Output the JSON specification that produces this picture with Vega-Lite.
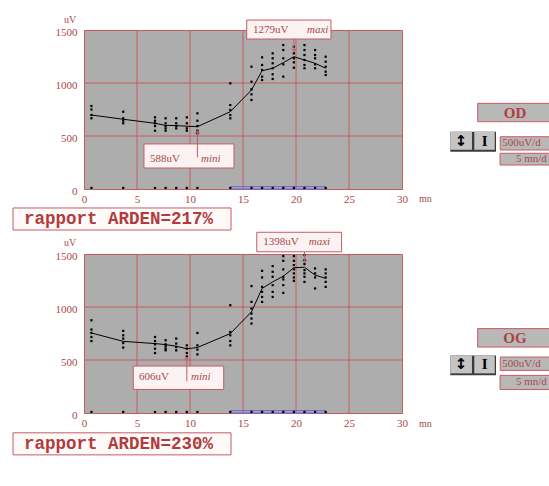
{
 "$schema": "https://vega.github.io/schema/vega-lite/v6.json",
 "background": "white",
 "padding": {"left": 12, "top": 14, "right": 0, "bottom": 0},
 "spacing": 65,
 "bounds": "flush",
 "config": {
  "view": {"fill": "#adadad", "stroke": "#c85a64", "strokeWidth": 1},
  "axis": {"grid": false, "domain": false, "ticks": false, "labelFont": "Liberation Serif", "labelFontSize": 11, "labelColor": "#a84848", "labelOverlap": false, "format": "d"},
  "axisX": {"labelPadding": 4, "labelFlush": false},
  "axisY": {"labelPadding": 7, "labelOffset": 2},
  "text": {"font": "Liberation Serif", "fontSize": 11, "color": "#a84848", "baseline": "middle", "align": "left", "clip": false},
  "rect": {"clip": false},
  "rule": {"clip": false},
  "point": {"clip": false}
 },
 "datasets": {
  "grid": [
   {"t":5,"t2":5,"v":0,"v2":1500},{"t":10,"t2":10,"v":0,"v2":1500},{"t":15,"t2":15,"v":0,"v2":1500},{"t":20,"t2":20,"v":0,"v2":1500},{"t":25,"t2":25,"v":0,"v2":1500},
   {"t":0,"t2":30,"v":500,"v2":500},{"t":0,"t2":30,"v":1000,"v2":1000}
  ],
  "od_pts": [
   {"t":0.7,"v":783},{"t":0.7,"v":750},{"t":0.7,"v":698},{"t":0.7,"v":667},
   {"t":3.7,"v":729},{"t":3.7,"v":667},{"t":3.7,"v":644},{"t":3.7,"v":620},
   {"t":6.7,"v":676},{"t":6.7,"v":644},{"t":6.7,"v":620},{"t":6.7,"v":594},{"t":6.7,"v":550},
   {"t":7.7,"v":667},{"t":7.7,"v":620},{"t":7.7,"v":594},{"t":7.7,"v":572},{"t":7.7,"v":550},
   {"t":8.7,"v":667},{"t":8.7,"v":620},{"t":8.7,"v":594},{"t":8.7,"v":572},
   {"t":9.7,"v":676},{"t":9.7,"v":620},{"t":9.7,"v":572},{"t":9.7,"v":550},
   {"t":10.7,"v":714},{"t":10.7,"v":644},{"t":10.7,"v":594},{"t":10.7,"v":550},{"t":10.7,"v":525},
   {"t":13.8,"v":997},{"t":13.8,"v":792},{"t":13.8,"v":745},{"t":13.8,"v":698},{"t":13.8,"v":667},
   {"t":15.8,"v":1154},{"t":15.8,"v":1012},{"t":15.8,"v":940},{"t":15.8,"v":893},{"t":15.8,"v":840},
   {"t":16.8,"v":1242},{"t":16.8,"v":1170},{"t":16.8,"v":1123},{"t":16.8,"v":1060},{"t":16.8,"v":1028},
   {"t":17.8,"v":1280},{"t":17.8,"v":1233},{"t":17.8,"v":1186},{"t":17.8,"v":1139},{"t":17.8,"v":1082},{"t":17.8,"v":1038},
   {"t":18.8,"v":1358},{"t":18.8,"v":1311},{"t":18.8,"v":1233},{"t":18.8,"v":1176},{"t":18.8,"v":1060},
   {"t":19.8,"v":1342},{"t":19.8,"v":1280},{"t":19.8,"v":1233},{"t":19.8,"v":1195},{"t":19.8,"v":1144},
   {"t":20.8,"v":1358},{"t":20.8,"v":1311},{"t":20.8,"v":1264},{"t":20.8,"v":1217},{"t":20.8,"v":1170},{"t":20.8,"v":1139},
   {"t":21.8,"v":1311},{"t":21.8,"v":1264},{"t":21.8,"v":1233},{"t":21.8,"v":1176},{"t":21.8,"v":1139},
   {"t":22.8,"v":1248},{"t":22.8,"v":1201},{"t":22.8,"v":1154},{"t":22.8,"v":1107},{"t":22.8,"v":1075}
  ],
  "od_mean": [
   {"t":0.7,"v":698},{"t":3.7,"v":658},{"t":6.7,"v":620},{"t":7.7,"v":600},{"t":8.7,"v":598},{"t":9.7,"v":592},{"t":10.7,"v":588},
   {"t":13.8,"v":729},{"t":15.8,"v":934},{"t":16.8,"v":1116},{"t":17.8,"v":1139},{"t":18.8,"v":1192},{"t":19.8,"v":1248},{"t":20.8,"v":1217},{"t":21.8,"v":1186},{"t":22.8,"v":1139}
  ],
  "od_rects": [
   {"kind":"note","t":5.66,"t2":14.15,"v":425,"v2":198},
   {"kind":"note","t":15.35,"t2":23.3,"v":1594,"v2":1415},
   {"kind":"report","t":-6.698,"t2":13.87,"v":-179,"v2":-387},
   {"kind":"ui","t":37.14,"t2":45,"v":808,"v2":635},
   {"kind":"ui","t":39.27,"t2":45,"v":493,"v2":368},
   {"kind":"ui","t":39.25,"t2":45,"v":337,"v2":226},
   {"kind":"shadow","t":34.56,"t2":38.87,"v":541,"v2":352},
   {"kind":"button","t":34.56,"t2":36.6,"v":541,"v2":370},
   {"kind":"button","t":36.82,"t2":38.75,"v":541,"v2":370},
   {"kind":"scan","t":13.85,"t2":22.8,"v":0,"v2":22}
  ],
  "od_arrows": [
   {"dir":"up","t":10.7,"v":548,"v2":300},
   {"dir":"down","t":19.8,"v":1300,"v2":1415}
  ],
  "od_text": [
   {"kind":"plain","t":6.23,"v":280,"label":"588uV"},
   {"kind":"italic","t":11.04,"v":280,"label":"mini"},
   {"kind":"plain","t":15.94,"v":1504,"label":"1279uV"},
   {"kind":"italic","t":21.04,"v":1504,"label":"maxi"},
   {"kind":"plain","t":39.45,"v":431,"label":"500uV/d"},
   {"kind":"plain","t":40.75,"v":282,"label":"5 mn/d"},
   {"kind":"small","t":31.6,"v":-94,"label":"mn"},
   {"kind":"unit","t":-1.32,"v":1594,"label":"uV"},
   {"kind":"report","t":-5.66,"v":-283,"label":"rapport ARDEN=217%"},
   {"kind":"eye","t":40.66,"v":720,"label":"OD"},
   {"kind":"arrowicon","t":35.58,"v":455,"label":"↕"},
   {"kind":"beamicon","t":37.79,"v":455,"label":"I"}
  ],
  "og_pts": [
   {"t":0.7,"v":875},{"t":0.7,"v":787},{"t":0.7,"v":755},{"t":0.7,"v":717},{"t":0.7,"v":679},
   {"t":3.7,"v":774},{"t":3.7,"v":733},{"t":3.7,"v":702},{"t":3.7,"v":660},{"t":3.7,"v":617},
   {"t":6.7,"v":717},{"t":6.7,"v":679},{"t":6.7,"v":648},{"t":6.7,"v":607},{"t":6.7,"v":566},
   {"t":7.7,"v":686},{"t":7.7,"v":648},{"t":7.7,"v":629},{"t":7.7,"v":607},{"t":7.7,"v":591},
   {"t":8.7,"v":702},{"t":8.7,"v":655},{"t":8.7,"v":622},{"t":8.7,"v":591},
   {"t":9.7,"v":638},{"t":9.7,"v":607},{"t":9.7,"v":566},{"t":9.7,"v":534},
   {"t":10.7,"v":755},{"t":10.7,"v":638},{"t":10.7,"v":598},{"t":10.7,"v":553},
   {"t":13.8,"v":1017},{"t":13.8,"v":764},{"t":13.8,"v":733},{"t":13.8,"v":679},{"t":13.8,"v":638},
   {"t":15.8,"v":1197},{"t":15.8,"v":1048},{"t":15.8,"v":986},{"t":15.8,"v":938},{"t":15.8,"v":891},{"t":15.8,"v":844},
   {"t":16.8,"v":1341},{"t":16.8,"v":1279},{"t":16.8,"v":1190},{"t":16.8,"v":1143},{"t":16.8,"v":1095},{"t":16.8,"v":1048},
   {"t":17.8,"v":1386},{"t":17.8,"v":1332},{"t":17.8,"v":1285},{"t":17.8,"v":1206},{"t":17.8,"v":1143},{"t":17.8,"v":1095},
   {"t":18.8,"v":1480},{"t":18.8,"v":1436},{"t":18.8,"v":1355},{"t":18.8,"v":1285},{"t":18.8,"v":1260},{"t":18.8,"v":1206},{"t":18.8,"v":1133},
   {"t":19.8,"v":1480},{"t":19.8,"v":1436},{"t":19.8,"v":1395},{"t":19.8,"v":1355},{"t":19.8,"v":1317},{"t":19.8,"v":1279},{"t":19.8,"v":1247},
   {"t":20.8,"v":1490},{"t":20.8,"v":1443},{"t":20.8,"v":1405},{"t":20.8,"v":1348},{"t":20.8,"v":1317},{"t":20.8,"v":1285},{"t":20.8,"v":1237},
   {"t":21.8,"v":1364},{"t":21.8,"v":1317},{"t":21.8,"v":1279},{"t":21.8,"v":1175},
   {"t":22.8,"v":1355},{"t":22.8,"v":1317},{"t":22.8,"v":1279},{"t":22.8,"v":1237},{"t":22.8,"v":1190}
  ],
  "og_mean": [
   {"t":0.7,"v":755},{"t":3.7,"v":676},{"t":6.7,"v":655},{"t":7.7,"v":645},{"t":8.7,"v":630},{"t":9.7,"v":606},{"t":10.7,"v":618},
   {"t":13.8,"v":749},{"t":15.8,"v":954},{"t":16.8,"v":1175},{"t":17.8,"v":1237},{"t":18.8,"v":1291},{"t":19.8,"v":1370},{"t":20.8,"v":1375},{"t":21.8,"v":1301},{"t":22.8,"v":1270}
  ],
  "og_rects": [
   {"kind":"note","t":4.65,"t2":13.18,"v":443,"v2":222},
   {"kind":"note","t":16.3,"t2":24.3,"v":1705,"v2":1521},
   {"kind":"report","t":-6.698,"t2":13.87,"v":-187,"v2":-395},
   {"kind":"ui","t":37.14,"t2":45,"v":796,"v2":622},
   {"kind":"ui","t":39.27,"t2":45,"v":528,"v2":402},
   {"kind":"ui","t":39.25,"t2":45,"v":355,"v2":222},
   {"kind":"shadow","t":34.56,"t2":38.87,"v":543,"v2":355},
   {"kind":"button","t":34.56,"t2":36.6,"v":543,"v2":374},
   {"kind":"button","t":36.82,"t2":38.75,"v":543,"v2":374},
   {"kind":"scan","t":13.85,"t2":22.8,"v":0,"v2":22}
  ],
  "og_arrows": [
   {"dir":"up","t":9.7,"v":525,"v2":300},
   {"dir":"down","t":20.8,"v":1415,"v2":1521}
  ],
  "og_text": [
   {"kind":"plain","t":5.19,"v":336,"label":"606uV"},
   {"kind":"italic","t":10.1,"v":336,"label":"mini"},
   {"kind":"plain","t":16.9,"v":1613,"label":"1398uV"},
   {"kind":"italic","t":21.2,"v":1613,"label":"maxi"},
   {"kind":"plain","t":39.45,"v":465,"label":"500uV/d"},
   {"kind":"plain","t":40.75,"v":288,"label":"5 mn/d"},
   {"kind":"small","t":31.6,"v":-100,"label":"mn"},
   {"kind":"unit","t":-1.32,"v":1600,"label":"uV"},
   {"kind":"report","t":-5.66,"v":-291,"label":"rapport ARDEN=230%"},
   {"kind":"eye","t":40.66,"v":709,"label":"OG"},
   {"kind":"arrowicon","t":35.58,"v":458,"label":"↕"},
   {"kind":"beamicon","t":37.79,"v":458,"label":"I"}
  ]
 },
 "vconcat": [
  {
   "width": 318, "height": 159,
   "encoding": {
    "x": {"field": "t", "type": "quantitative", "scale": {"domain": [0, 30], "nice": false, "zero": false}, "axis": {"values": [0,5,10,15,20,25,30], "title": null}},
    "y": {"field": "v", "type": "quantitative", "scale": {"domain": [0, 1500], "nice": false}, "axis": {"values": [0,500,1000,1500], "title": null}}
   },
   "layer": [
    {"data": {"name": "grid"}, "mark": {"type": "rule", "color": "#c85a64", "strokeWidth": 1}, "encoding": {"x2": {"field": "t2", "title": null}, "y2": {"field": "v2", "title": null}}},
    {"data": {"name": "od_rects"}, "transform": [{"filter": "datum.kind == 'scan'"}], "mark": {"type": "rect", "fillOpacity": 0, "stroke": "#6464e6", "strokeWidth": 1}, "encoding": {"x2": {"field": "t2", "title": null}, "y2": {"field": "v2", "title": null}}},
    {"data": {"name": "od_mean"}, "mark": {"type": "square", "size": 5, "color": "black", "opacity": 1}, "encoding": {"y": {"datum": 10}}},
    {"data": {"name": "od_pts"}, "mark": {"type": "square", "size": 5, "color": "black", "opacity": 1}},
    {"data": {"name": "od_mean"}, "mark": {"type": "line", "color": "black", "strokeWidth": 1}},
    {"data": {"name": "od_arrows"}, "transform": [{"filter": "datum.dir == 'down'"}], "mark": {"type": "rule", "color": "#c85a64", "strokeWidth": 1}, "encoding": {"y2": {"field": "v2", "title": null}}},
    {"data": {"name": "od_rects"}, "transform": [{"filter": "datum.kind == 'note'"}], "mark": {"type": "rect", "fill": "#fbf3f3", "stroke": "#c85a64", "strokeWidth": 1}, "encoding": {"x2": {"field": "t2", "title": null}, "y2": {"field": "v2", "title": null}}},
    {"data": {"name": "od_arrows"}, "transform": [{"filter": "datum.dir == 'up'"}], "mark": {"type": "point", "shape": "M-1,1L0,0L1,1", "size": 30, "filled": false, "stroke": "#c85a64", "strokeWidth": 1, "opacity": 1}},
    {"data": {"name": "od_arrows"}, "transform": [{"filter": "datum.dir == 'up'"}], "mark": {"type": "rule", "color": "#c85a64", "strokeWidth": 1}, "encoding": {"y2": {"field": "v2", "title": null}}},
    {"data": {"name": "od_arrows"}, "transform": [{"filter": "datum.dir == 'down'"}], "mark": {"type": "point", "shape": "M-1,-1L0,0L1,-1", "size": 30, "filled": false, "stroke": "#c85a64", "strokeWidth": 1, "opacity": 1}},
    {"data": {"name": "od_rects"}, "transform": [{"filter": "datum.kind == 'report'"}], "mark": {"type": "rect", "fill": "#fffafa", "stroke": "#c85a64", "strokeWidth": 1}, "encoding": {"x2": {"field": "t2", "title": null}, "y2": {"field": "v2", "title": null}}},
    {"data": {"name": "od_rects"}, "transform": [{"filter": "datum.kind == 'ui'"}], "mark": {"type": "rect", "fill": "#b8b8b8", "stroke": "#c85a64", "strokeWidth": 1}, "encoding": {"x2": {"field": "t2", "title": null}, "y2": {"field": "v2", "title": null}}},
    {"data": {"name": "od_rects"}, "transform": [{"filter": "datum.kind == 'shadow'"}], "mark": {"type": "rect", "fill": "#3c3c3c"}, "encoding": {"x2": {"field": "t2", "title": null}, "y2": {"field": "v2", "title": null}}},
    {"data": {"name": "od_rects"}, "transform": [{"filter": "datum.kind == 'button'"}], "mark": {"type": "rect", "fill": "#c4c4c4"}, "encoding": {"x2": {"field": "t2", "title": null}, "y2": {"field": "v2", "title": null}}},
    {"data": {"name": "od_text"}, "transform": [{"filter": "datum.kind == 'plain'"}], "mark": {"type": "text"}, "encoding": {"text": {"field": "label"}}},
    {"data": {"name": "od_text"}, "transform": [{"filter": "datum.kind == 'italic'"}], "mark": {"type": "text", "fontStyle": "italic"}, "encoding": {"text": {"field": "label"}}},
    {"data": {"name": "od_text"}, "transform": [{"filter": "datum.kind == 'small'"}], "mark": {"type": "text", "fontSize": 10}, "encoding": {"text": {"field": "label"}}},
    {"data": {"name": "od_text"}, "transform": [{"filter": "datum.kind == 'unit'"}], "mark": {"type": "text", "fontSize": 10, "align": "center"}, "encoding": {"text": {"field": "label"}}},
    {"data": {"name": "od_text"}, "transform": [{"filter": "datum.kind == 'report'"}], "mark": {"type": "text", "font": "Liberation Mono", "fontWeight": "bold", "fontSize": 17.5, "color": "#b03c3c"}, "encoding": {"text": {"field": "label"}}},
    {"data": {"name": "od_text"}, "transform": [{"filter": "datum.kind == 'eye'"}], "mark": {"type": "text", "align": "center", "fontWeight": "bold", "fontSize": 15, "color": "#b04040"}, "encoding": {"text": {"field": "label"}}},
    {"data": {"name": "od_text"}, "transform": [{"filter": "datum.kind == 'arrowicon'"}], "mark": {"type": "text", "align": "center", "font": "DejaVu Sans", "fontWeight": "bold", "fontSize": 15, "color": "black"}, "encoding": {"text": {"field": "label"}}},
    {"data": {"name": "od_text"}, "transform": [{"filter": "datum.kind == 'beamicon'"}], "mark": {"type": "text", "align": "center", "fontWeight": "bold", "fontSize": 15, "color": "black"}, "encoding": {"text": {"field": "label"}}}
   ]
  },
  {
   "width": 318, "height": 159,
   "encoding": {
    "x": {"field": "t", "type": "quantitative", "scale": {"domain": [0, 30], "nice": false, "zero": false}, "axis": {"values": [0,5,10,15,20,25,30], "title": null}},
    "y": {"field": "v", "type": "quantitative", "scale": {"domain": [0, 1500], "nice": false}, "axis": {"values": [0,500,1000,1500], "title": null}}
   },
   "layer": [
    {"data": {"name": "grid"}, "mark": {"type": "rule", "color": "#c85a64", "strokeWidth": 1}, "encoding": {"x2": {"field": "t2", "title": null}, "y2": {"field": "v2", "title": null}}},
    {"data": {"name": "og_rects"}, "transform": [{"filter": "datum.kind == 'scan'"}], "mark": {"type": "rect", "fillOpacity": 0, "stroke": "#6464e6", "strokeWidth": 1}, "encoding": {"x2": {"field": "t2", "title": null}, "y2": {"field": "v2", "title": null}}},
    {"data": {"name": "og_mean"}, "mark": {"type": "square", "size": 5, "color": "black", "opacity": 1}, "encoding": {"y": {"datum": 10}}},
    {"data": {"name": "og_pts"}, "mark": {"type": "square", "size": 5, "color": "black", "opacity": 1}},
    {"data": {"name": "og_mean"}, "mark": {"type": "line", "color": "black", "strokeWidth": 1}},
    {"data": {"name": "og_arrows"}, "transform": [{"filter": "datum.dir == 'down'"}], "mark": {"type": "rule", "color": "#c85a64", "strokeWidth": 1}, "encoding": {"y2": {"field": "v2", "title": null}}},
    {"data": {"name": "og_rects"}, "transform": [{"filter": "datum.kind == 'note'"}], "mark": {"type": "rect", "fill": "#fbf3f3", "stroke": "#c85a64", "strokeWidth": 1}, "encoding": {"x2": {"field": "t2", "title": null}, "y2": {"field": "v2", "title": null}}},
    {"data": {"name": "og_arrows"}, "transform": [{"filter": "datum.dir == 'up'"}], "mark": {"type": "point", "shape": "M-1,1L0,0L1,1", "size": 30, "filled": false, "stroke": "#c85a64", "strokeWidth": 1, "opacity": 1}},
    {"data": {"name": "og_arrows"}, "transform": [{"filter": "datum.dir == 'up'"}], "mark": {"type": "rule", "color": "#c85a64", "strokeWidth": 1}, "encoding": {"y2": {"field": "v2", "title": null}}},
    {"data": {"name": "og_arrows"}, "transform": [{"filter": "datum.dir == 'down'"}], "mark": {"type": "point", "shape": "M-1,-1L0,0L1,-1", "size": 30, "filled": false, "stroke": "#c85a64", "strokeWidth": 1, "opacity": 1}},
    {"data": {"name": "og_rects"}, "transform": [{"filter": "datum.kind == 'report'"}], "mark": {"type": "rect", "fill": "#fffafa", "stroke": "#c85a64", "strokeWidth": 1}, "encoding": {"x2": {"field": "t2", "title": null}, "y2": {"field": "v2", "title": null}}},
    {"data": {"name": "og_rects"}, "transform": [{"filter": "datum.kind == 'ui'"}], "mark": {"type": "rect", "fill": "#b8b8b8", "stroke": "#c85a64", "strokeWidth": 1}, "encoding": {"x2": {"field": "t2", "title": null}, "y2": {"field": "v2", "title": null}}},
    {"data": {"name": "og_rects"}, "transform": [{"filter": "datum.kind == 'shadow'"}], "mark": {"type": "rect", "fill": "#3c3c3c"}, "encoding": {"x2": {"field": "t2", "title": null}, "y2": {"field": "v2", "title": null}}},
    {"data": {"name": "og_rects"}, "transform": [{"filter": "datum.kind == 'button'"}], "mark": {"type": "rect", "fill": "#c4c4c4"}, "encoding": {"x2": {"field": "t2", "title": null}, "y2": {"field": "v2", "title": null}}},
    {"data": {"name": "og_text"}, "transform": [{"filter": "datum.kind == 'plain'"}], "mark": {"type": "text"}, "encoding": {"text": {"field": "label"}}},
    {"data": {"name": "og_text"}, "transform": [{"filter": "datum.kind == 'italic'"}], "mark": {"type": "text", "fontStyle": "italic"}, "encoding": {"text": {"field": "label"}}},
    {"data": {"name": "og_text"}, "transform": [{"filter": "datum.kind == 'small'"}], "mark": {"type": "text", "fontSize": 10}, "encoding": {"text": {"field": "label"}}},
    {"data": {"name": "og_text"}, "transform": [{"filter": "datum.kind == 'unit'"}], "mark": {"type": "text", "fontSize": 10, "align": "center"}, "encoding": {"text": {"field": "label"}}},
    {"data": {"name": "og_text"}, "transform": [{"filter": "datum.kind == 'report'"}], "mark": {"type": "text", "font": "Liberation Mono", "fontWeight": "bold", "fontSize": 17.5, "color": "#b03c3c"}, "encoding": {"text": {"field": "label"}}},
    {"data": {"name": "og_text"}, "transform": [{"filter": "datum.kind == 'eye'"}], "mark": {"type": "text", "align": "center", "fontWeight": "bold", "fontSize": 15, "color": "#b04040"}, "encoding": {"text": {"field": "label"}}},
    {"data": {"name": "og_text"}, "transform": [{"filter": "datum.kind == 'arrowicon'"}], "mark": {"type": "text", "align": "center", "font": "DejaVu Sans", "fontWeight": "bold", "fontSize": 15, "color": "black"}, "encoding": {"text": {"field": "label"}}},
    {"data": {"name": "og_text"}, "transform": [{"filter": "datum.kind == 'beamicon'"}], "mark": {"type": "text", "align": "center", "fontWeight": "bold", "fontSize": 15, "color": "black"}, "encoding": {"text": {"field": "label"}}}
   ]
  }
 ]
}
